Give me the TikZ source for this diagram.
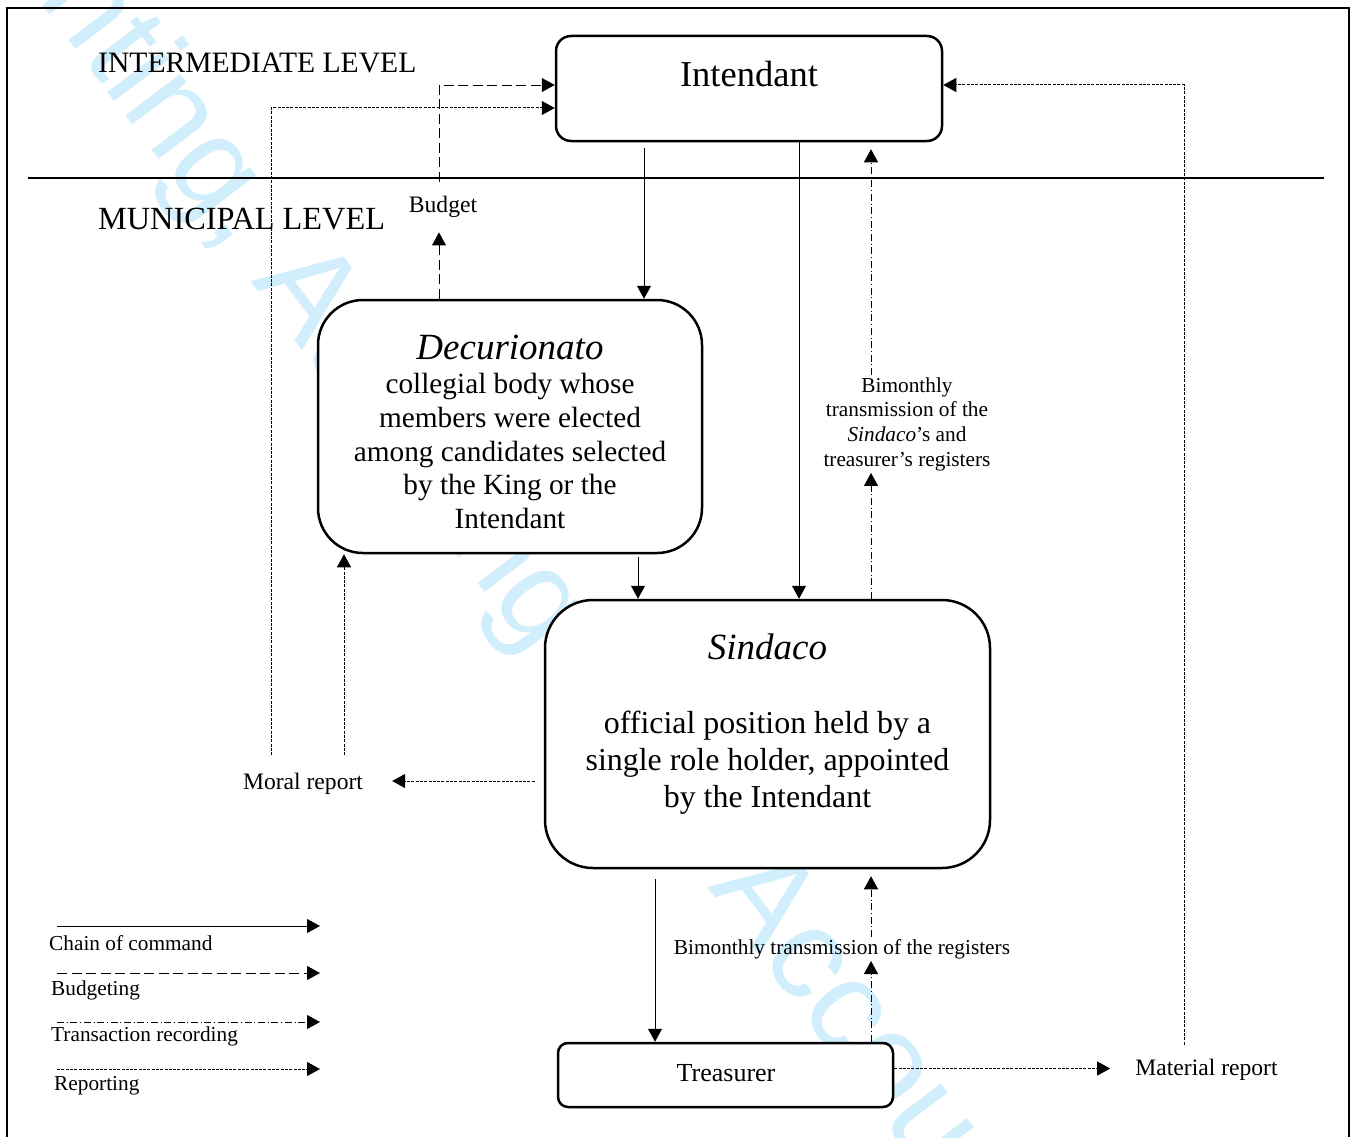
\documentclass[tikz,border=0pt]{standalone}
\usepackage{fontspec}
\setmainfont{Liberation Serif}
\newfontfamily\wmfont{Liberation Sans}
\usetikzlibrary{arrows.meta}

\definecolor{wmcyan}{RGB}{208,238,251}

\tikzset{
  bigbox/.style={draw, line width=2.5pt, fill=white, inner sep=0pt},
  headtip/.style={-{Triangle[length=13pt,width=14pt]}},
  command/.style={headtip, line width=1pt},
  budget/.style={headtip, line width=0.9pt, dash pattern=on 10pt off 4.5pt},
  record/.style={headtip, line width=1pt, dash pattern=on 7pt off 2.7pt on 1pt off 2.7pt},
  report/.style={headtip, line width=1pt, dash pattern=on 3pt off 1.3pt},
  smalltext/.style={font=\fontsize{21.3}{24.7}\selectfont, inner sep=2pt, align=center},
  midtext/.style={font=\fontsize{23.6}{28}\selectfont},
}

\begin{document}
\begin{tikzpicture}[x=1pt,y=1pt,yscale=-1,xscale=1]
\useasboundingbox (0,0) rectangle (1356,1137);

% Watermark
\node[anchor=base west, rotate=-53, inner sep=0pt, text=wmcyan, font=\wmfont\fontsize{130}{130}\selectfont] (wm) at (-180,-290) {Accounting, Auditing and Accountability Journal};

%Shape: Frame
\draw[line width=2.2pt] (7,1137) -- (7,8) -- (1349,8) -- (1349,1137);
%Straight Lines: level separator
\draw[line width=1.2pt] (28,178) -- (1324,178);

% Text Node
\node[font=\fontsize{29.6}{34}\selectfont, anchor=west, inner sep=0pt] (intlvl) at (98,63) {INTERMEDIATE LEVEL};
% Text Node
\node[font=\fontsize{32.3}{36}\selectfont, anchor=west, inner sep=0pt] (munlvl) at (98,219) {MUNICIPAL LEVEL};

%Shape: Rounded Rectangle (Intendant)
\node[bigbox, rounded corners=15pt, minimum width=386pt, minimum height=105pt] (int) at (749,88.5) {};
\node[font=\fontsize{36.5}{44}\selectfont] (intname) at (749,74) {Intendant};
%Shape: Rounded Rectangle (Decurionato)
\node[bigbox, rounded corners=45pt, minimum width=384pt, minimum height=253pt] (dec) at (510,426.5) {};
\node[align=center, font=\fontsize{29.3}{33.8}\selectfont] (decname) at (510,432) {{\fontsize{37}{40}\selectfont\itshape Decurionato}\\ collegial body whose\\ members were elected\\ among candidates selected\\ by the King or the\\ Intendant};
%Shape: Rounded Rectangle (Sindaco)
\node[bigbox, rounded corners=48pt, minimum width=445pt, minimum height=268pt] (sin) at (767.5,734) {};
\node[align=center, font=\fontsize{31.9}{37.2}\selectfont] (sinname) at (767.5,724) {{\fontsize{37}{40}\selectfont\itshape Sindaco}\\[36.5pt] official position held by a\\ single role holder, appointed\\ by the Intendant};
%Shape: Rounded Rectangle (Treasurer)
\node[bigbox, rounded corners=10pt, minimum width=335pt, minimum height=64pt] (tre) at (725.5,1075) {};
\node[font=\fontsize{26}{30}\selectfont] (trename) at (726,1073) {Treasurer};

% Text Node
\node[midtext, inner xsep=0pt, inner ysep=14.5pt] (bud) at (443,207) {Budget};
% Text Node
\node[midtext, inner xsep=29pt, inner ysep=18pt] (mor) at (303,784) {Moral report};
% Text Node
\node[midtext, inner xsep=25pt, inner ysep=14pt] (mat) at (1206.5,1069.5) {Material report};
% Text Node
\node[smalltext] (bimup) at (907,424) {Bimonthly\\ transmission of the\\ \textit{Sindaco}'s and\\ treasurer's registers};
% Text Node
\node[smalltext] (bimlow) at (842,949) {Bimonthly transmission of the registers};

%Straight Lines: chain of command
\draw[command, shorten <=6pt] (int.south -| 644,0) -- (dec.north -| 644,0);
\draw[command] (int.south -| 799,0) -- (sin.north -| 799,0);
\draw[command, shorten <=3pt] (dec.south -| 638,0) -- (sin.north -| 638,0);
\draw[command, shorten <=10pt] (sin.south -| 655,0) -- (tre.north -| 655,0);

%Straight Lines: budgeting
\draw[budget] (dec.north -| 439,0) -- (bud.south -| 439,0);
\draw[budget] (bud.north -| 439,0) |- (int.west |- 0,85);

%Straight Lines: transaction recording
\draw[record] (sin.north -| 871,0) -- (bimup.south -| 871,0);
\draw[record, shorten >=7pt] (bimup.north -| 871,0) -- (int.south -| 871,0);
\draw[record] (tre.north -| 871,0) -- (bimlow.south -| 871,0);
\draw[record, shorten >=7pt] (bimlow.north -| 871,0) -- (sin.south -| 871,0);

%Straight Lines: reporting
\draw[report, shorten <=9pt] (sin.west |- 0,781) -- (mor.east |- 0,781);
\draw[report] (mor.north -| 344,0) -- (dec.south -| 344,0);
\draw[report] (mor.north -| 271,0) |- (int.west |- 0,108);
\draw[report] (tre.east |- 0,1068.5) -- (mat.west |- 0,1068.5);
\draw[report] (mat.north -| 1184,0) |- (int.east |- 0,85);

% Legend
\coordinate (cmdA) at (57,926);
\coordinate (cmdB) at (320,926);
\draw[command] (cmdA) -- (cmdB);
\node[smalltext, anchor=west, inner sep=0pt] (cmdtxt) at (49,943) {Chain of command};
\coordinate (budA) at (57,973);
\coordinate (budB) at (320,973);
\draw[budget] (budA) -- (budB);
\node[smalltext, anchor=west, inner sep=0pt] (budtxt) at (51,990) {Budgeting};
\coordinate (recA) at (57,1022);
\coordinate (recB) at (320,1022);
\draw[record] (recA) -- (recB);
\node[smalltext, anchor=west, inner sep=0pt] (rectxt) at (51,1036) {Transaction recording};
\coordinate (repA) at (57,1069);
\coordinate (repB) at (320,1069);
\draw[report] (repA) -- (repB);
\node[smalltext, anchor=west, inner sep=0pt] (reptxt) at (54,1086) {Reporting};
\end{tikzpicture}
\end{document}
